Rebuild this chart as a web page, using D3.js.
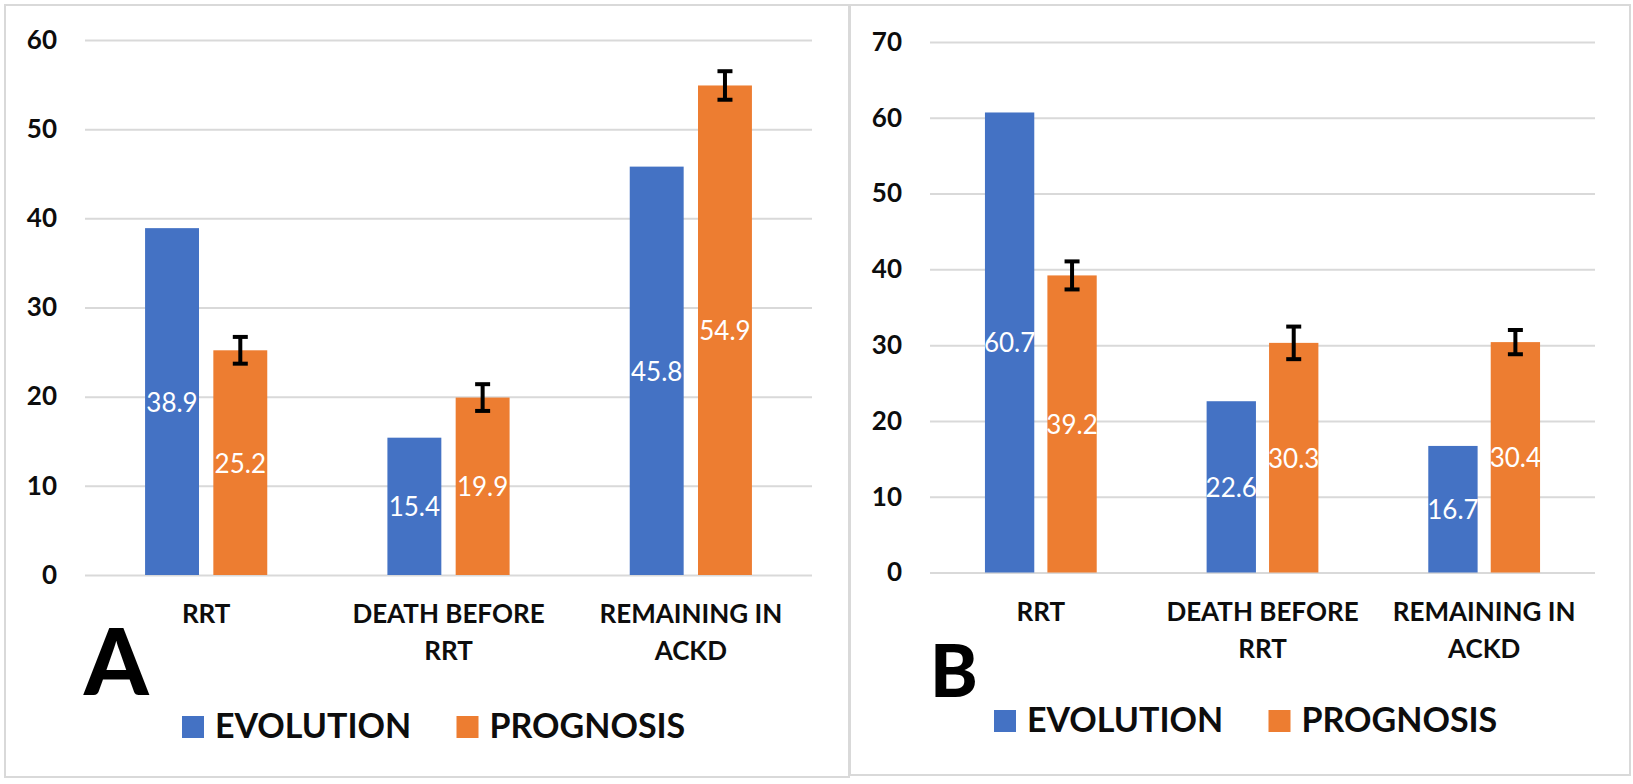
<!DOCTYPE html>
<html>
<head>
<meta charset="utf-8">
<script src="https://cdn.jsdelivr.net/npm/d3@7"></script>
<style>
  body { margin: 0; background: #fff; }
  text { font-family: Lato, "Open Sans", sans-serif; }
</style>
</head>
<body>
<script>
// two panels, same categories, evolution vs prognosis
var categories = [["RRT"], ["DEATH BEFORE", "RRT"], ["REMAINING IN", "ACKD"]],
    series = ["EVOLUTION", "PROGNOSIS"],
    colors = ["#4472C4", "#ED7D31"];

// panel A
var evolutionA = [38.9, 15.4, 45.8],
    prognosisA = [25.2, 19.9, 54.9],
    errorA = [1.5, 1.5, 1.6],
    ticksA = [0, 10, 20, 30, 40, 50, 60];

// panel B
var evolutionB = [60.7, 22.6, 16.7],
    prognosisB = [39.2, 30.3, 30.4],
    errorB = [1.85, 2.15, 1.6],
    ticksB = [0, 10, 20, 30, 40, 50, 60, 70];

var svg = d3.select("body").append("svg")
    .attr("width", 1633)
    .attr("height", 784);

// layout of each panel (pixels)
var panels = [
  {letter: "A", evo: evolutionA, prog: prognosisA, err: errorA, ticks: ticksA,
   box: [5, 5, 844, 772], left: 85, right: 812, top: 40, bottom: 575,
   catY: 623, letterX: 84, letterY: 695, letterSize: 92,
   legX: 182, legY: 716},
  {letter: "B", evo: evolutionB, prog: prognosisB, err: errorB, ticks: ticksB,
   box: [850, 5, 780, 770], left: 930, right: 1595, top: 42, bottom: 572.5,
   catY: 621, letterX: 930, letterY: 697, letterSize: 72,
   legX: 994, legY: 710}
];

panels.forEach(function(p){

  svg.append("rect")
      .attr("x", p.box[0]).attr("y", p.box[1])
      .attr("width", p.box[2]).attr("height", p.box[3])
      .attr("fill", "none").attr("stroke", "#D9D9D9").attr("stroke-width", 2);

  var y = d3.scaleLinear()
      .domain([0, d3.max(p.ticks)])
      .range([p.bottom, p.top]);

  var x0 = d3.scaleBand()
      .domain(d3.range(categories.length))
      .range([p.left, p.right]);

  var x1 = d3.scaleBand()
      .domain(series)
      .range([0, x0.bandwidth()])
      .paddingInner(0.21)
      .paddingOuter(0.88);

  // gridlines + tick labels
  var yAxis = svg.append("g")
      .attr("transform", "translate(" + p.left + ",0)")
      .call(d3.axisLeft(y).tickValues(p.ticks).tickSize(-(p.right - p.left)).tickPadding(28));
  yAxis.select(".domain").remove();
  yAxis.selectAll(".tick line").attr("stroke", "#D9D9D9").attr("stroke-width", 2);
  yAxis.selectAll(".tick text")
      .attr("fill", "#0D0D0D")
      .style("font-family", "Lato, 'Open Sans', sans-serif")
      .style("font-size", "26px")
      .style("font-weight", "bold");

  var rows = categories.map(function(c, i){
    return [
      {s: 0, i: i, v: p.evo[i]},
      {s: 1, i: i, v: p.prog[i], e: p.err[i]}
    ];
  });
  var flat = d3.merge(rows);

  svg.append("g").selectAll("rect")
      .data(flat)
      .enter().append("rect")
      .attr("x", function(d){ return x0(d.i) + x1(series[d.s]); })
      .attr("y", function(d){ return y(d.v); })
      .attr("width", x1.bandwidth())
      .attr("height", function(d){ return y(0) - y(d.v); })
      .attr("fill", function(d){ return colors[d.s]; });

  // value labels, centred in bar
  svg.append("g").selectAll("text")
      .data(flat)
      .enter().append("text")
      .attr("x", function(d){ return x0(d.i) + x1(series[d.s]) + x1.bandwidth()/2; })
      .attr("y", function(d){ return (y(d.v) + y(0))/2; })
      .attr("text-anchor", "middle")
      .attr("dominant-baseline", "central")
      .attr("fill", "#fff")
      .style("font-size", "26px")
      .text(function(d){ return d.v.toFixed(1); });

  // error bars on prognosis
  var eb = svg.append("g").selectAll("g")
      .data(flat.filter(function(d){ return d.e != null; }))
      .enter().append("g")
      .attr("stroke", "#000").attr("stroke-width", 4);
  var cx = function(d){ return x0(d.i) + x1(series[d.s]) + x1.bandwidth()/2; };
  eb.append("line")
      .attr("x1", cx).attr("x2", cx)
      .attr("y1", function(d){ return y(d.v + d.e); })
      .attr("y2", function(d){ return y(d.v - d.e); });
  eb.append("line")
      .attr("x1", function(d){ return cx(d) - 7.5; }).attr("x2", function(d){ return cx(d) + 7.5; })
      .attr("y1", function(d){ return y(d.v + d.e); }).attr("y2", function(d){ return y(d.v + d.e); });
  eb.append("line")
      .attr("x1", function(d){ return cx(d) - 7.5; }).attr("x2", function(d){ return cx(d) + 7.5; })
      .attr("y1", function(d){ return y(d.v - d.e); }).attr("y2", function(d){ return y(d.v - d.e); });

  // category labels (two lines max)
  var cat = svg.append("g").selectAll("text")
      .data(categories)
      .enter().append("text")
      .attr("text-anchor", "middle")
      .attr("fill", "#0D0D0D")
      .style("font-size", "26px")
      .style("font-weight", "bold");
  cat.selectAll("tspan")
      .data(function(d, i){ return d.map(function(t){ return {t: t, i: i}; }); })
      .enter().append("tspan")
      .attr("x", function(d){ return x0(d.i) + x0.bandwidth()/2; })
      .attr("y", function(d, j){ return p.catY + j*36.5; })
      .text(function(d){ return d.t; });

  // panel letter
  svg.append("text")
      .attr("x", p.letterX).attr("y", p.letterY)
      .attr("fill", "#000")
      .style("font-size", p.letterSize + "px")
      .style("font-weight", 900)
      .text(p.letter);

  // legend
  var legOffsets = [0, 274.5];
  var leg = svg.append("g").selectAll("g")
      .data(series)
      .enter().append("g")
      .attr("transform", function(d, i){ return "translate(" + (p.legX + legOffsets[i]) + "," + p.legY + ")"; });
  leg.append("rect")
      .attr("width", 22).attr("height", 22)
      .attr("fill", function(d, i){ return colors[i]; });
  leg.append("text")
      .attr("x", 33).attr("y", 22)
      .attr("fill", "#0D0D0D")
      .style("font-size", "34px")
      .style("font-weight", "bold")
      .text(function(d){ return d; });
});
</script>
</body>
</html>
